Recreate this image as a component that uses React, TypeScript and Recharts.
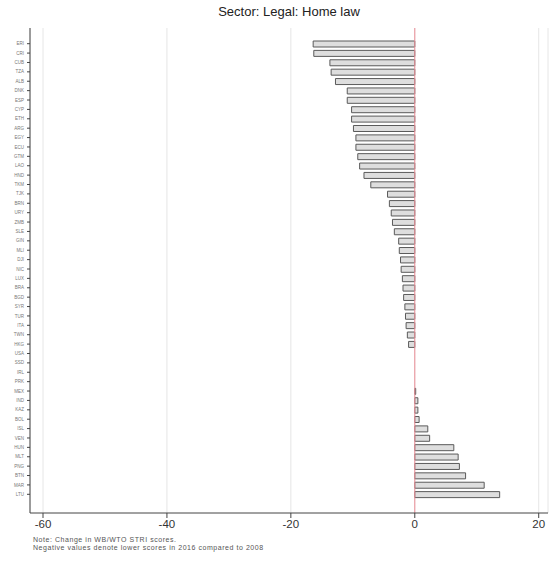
import { Bar, BarChart, CartesianGrid, ReferenceLine, XAxis, YAxis } from "recharts";

const countries = [
  "ERI", "CRI", "CUB", "TZA", "ALB", "DNK", "ESP", "CYP", "ETH", "ARG",
  "EGY", "ECU", "GTM", "LAO", "HND", "TKM", "TJK", "BRN", "URY", "ZMB",
  "SLE", "GIN", "MLI", "DJI", "NIC", "LUX", "BRA", "BGD", "SYR", "TUR",
  "ITA", "TWN", "HKG", "USA", "SSD", "IRL", "PRK", "MEX", "IND", "KAZ",
  "BOL", "ISL", "VEN", "HUN", "MLT", "PNG", "BTN", "MAR", "LTU",
];

const changes = [
  -16.4, -16.3, -13.7, -13.5, -12.8, -10.9, -10.9, -10.2, -10.2, -9.9,
  -9.5, -9.5, -9.2, -8.9, -8.2, -7.1, -4.4, -4.1, -3.8, -3.6,
  -3.3, -2.6, -2.5, -2.3, -2.2, -2.0, -1.9, -1.8, -1.6, -1.5,
  -1.4, -1.2, -1.0, 0, 0, 0, 0, 0.15, 0.5, 0.5,
  0.7, 2.1, 2.4, 6.3, 7.0, 7.2, 8.2, 11.2, 13.7,
];

const xTicks = [-60, -40, -20, 0, 20];

const noteLines = [
  "Note: Change in WB/WTO STRI scores.",
  "Negative values denote lower scores in 2016 compared to 2008",
];

const chartData = countries.map((code, i) => ({ code, change: changes[i] }));

const font = "'Liberation Sans', Arial, sans-serif";

export default function App() {
  return (
    <div
      style={{
        position: "absolute",
        left: 0,
        top: 0,
        width: 554,
        height: 566,
        background: "#fff",
        fontFamily: font,
      }}
    >
      <div
        style={{
          position: "absolute",
          top: 4,
          left: 30,
          width: 518,
          textAlign: "center",
          fontSize: 13,
          color: "#222",
        }}
      >
        Sector: Legal: Home law
      </div>
      <BarChart
        width={554}
        height={566}
        data={chartData}
        layout="vertical"
        barCategoryGap={0}
        margin={{ top: 28, right: 6, bottom: 33, left: 0 }}
      >
        <CartesianGrid horizontal={false} stroke="#e6e6e6" />
        <XAxis
          type="number"
          domain={[-62.1, 21.5]}
          ticks={xTicks}
          allowDataOverflow
          height={20}
          tickSize={5}
          tickMargin={2}
          stroke="#444"
          tick={{ fontSize: 11.5, fill: "#333", fontFamily: font }}
        />
        <YAxis
          type="category"
          dataKey="code"
          width={30}
          interval={0}
          padding={{ top: 11, bottom: 14 }}
          tickSize={3}
          tickMargin={3}
          stroke="#444"
          tick={{ fontSize: 4.5, fill: "#777", fontFamily: font }}
        />
        <ReferenceLine x={0} stroke="#ec8f97" strokeWidth={1} />
        <Bar
          dataKey="change"
          barSize={6}
          fill="#dedede"
          stroke="#5a5a5a"
          strokeWidth={1}
          isAnimationActive={false}
        />
      </BarChart>
      <div
        style={{
          position: "absolute",
          left: 33,
          top: 536,
          fontSize: 7,
          letterSpacing: 0.55,
          lineHeight: "8px",
          color: "#555",
          whiteSpace: "nowrap",
        }}
      >
        {noteLines.map((line) => (
          <div key={line}>{line}</div>
        ))}
      </div>
    </div>
  );
}
